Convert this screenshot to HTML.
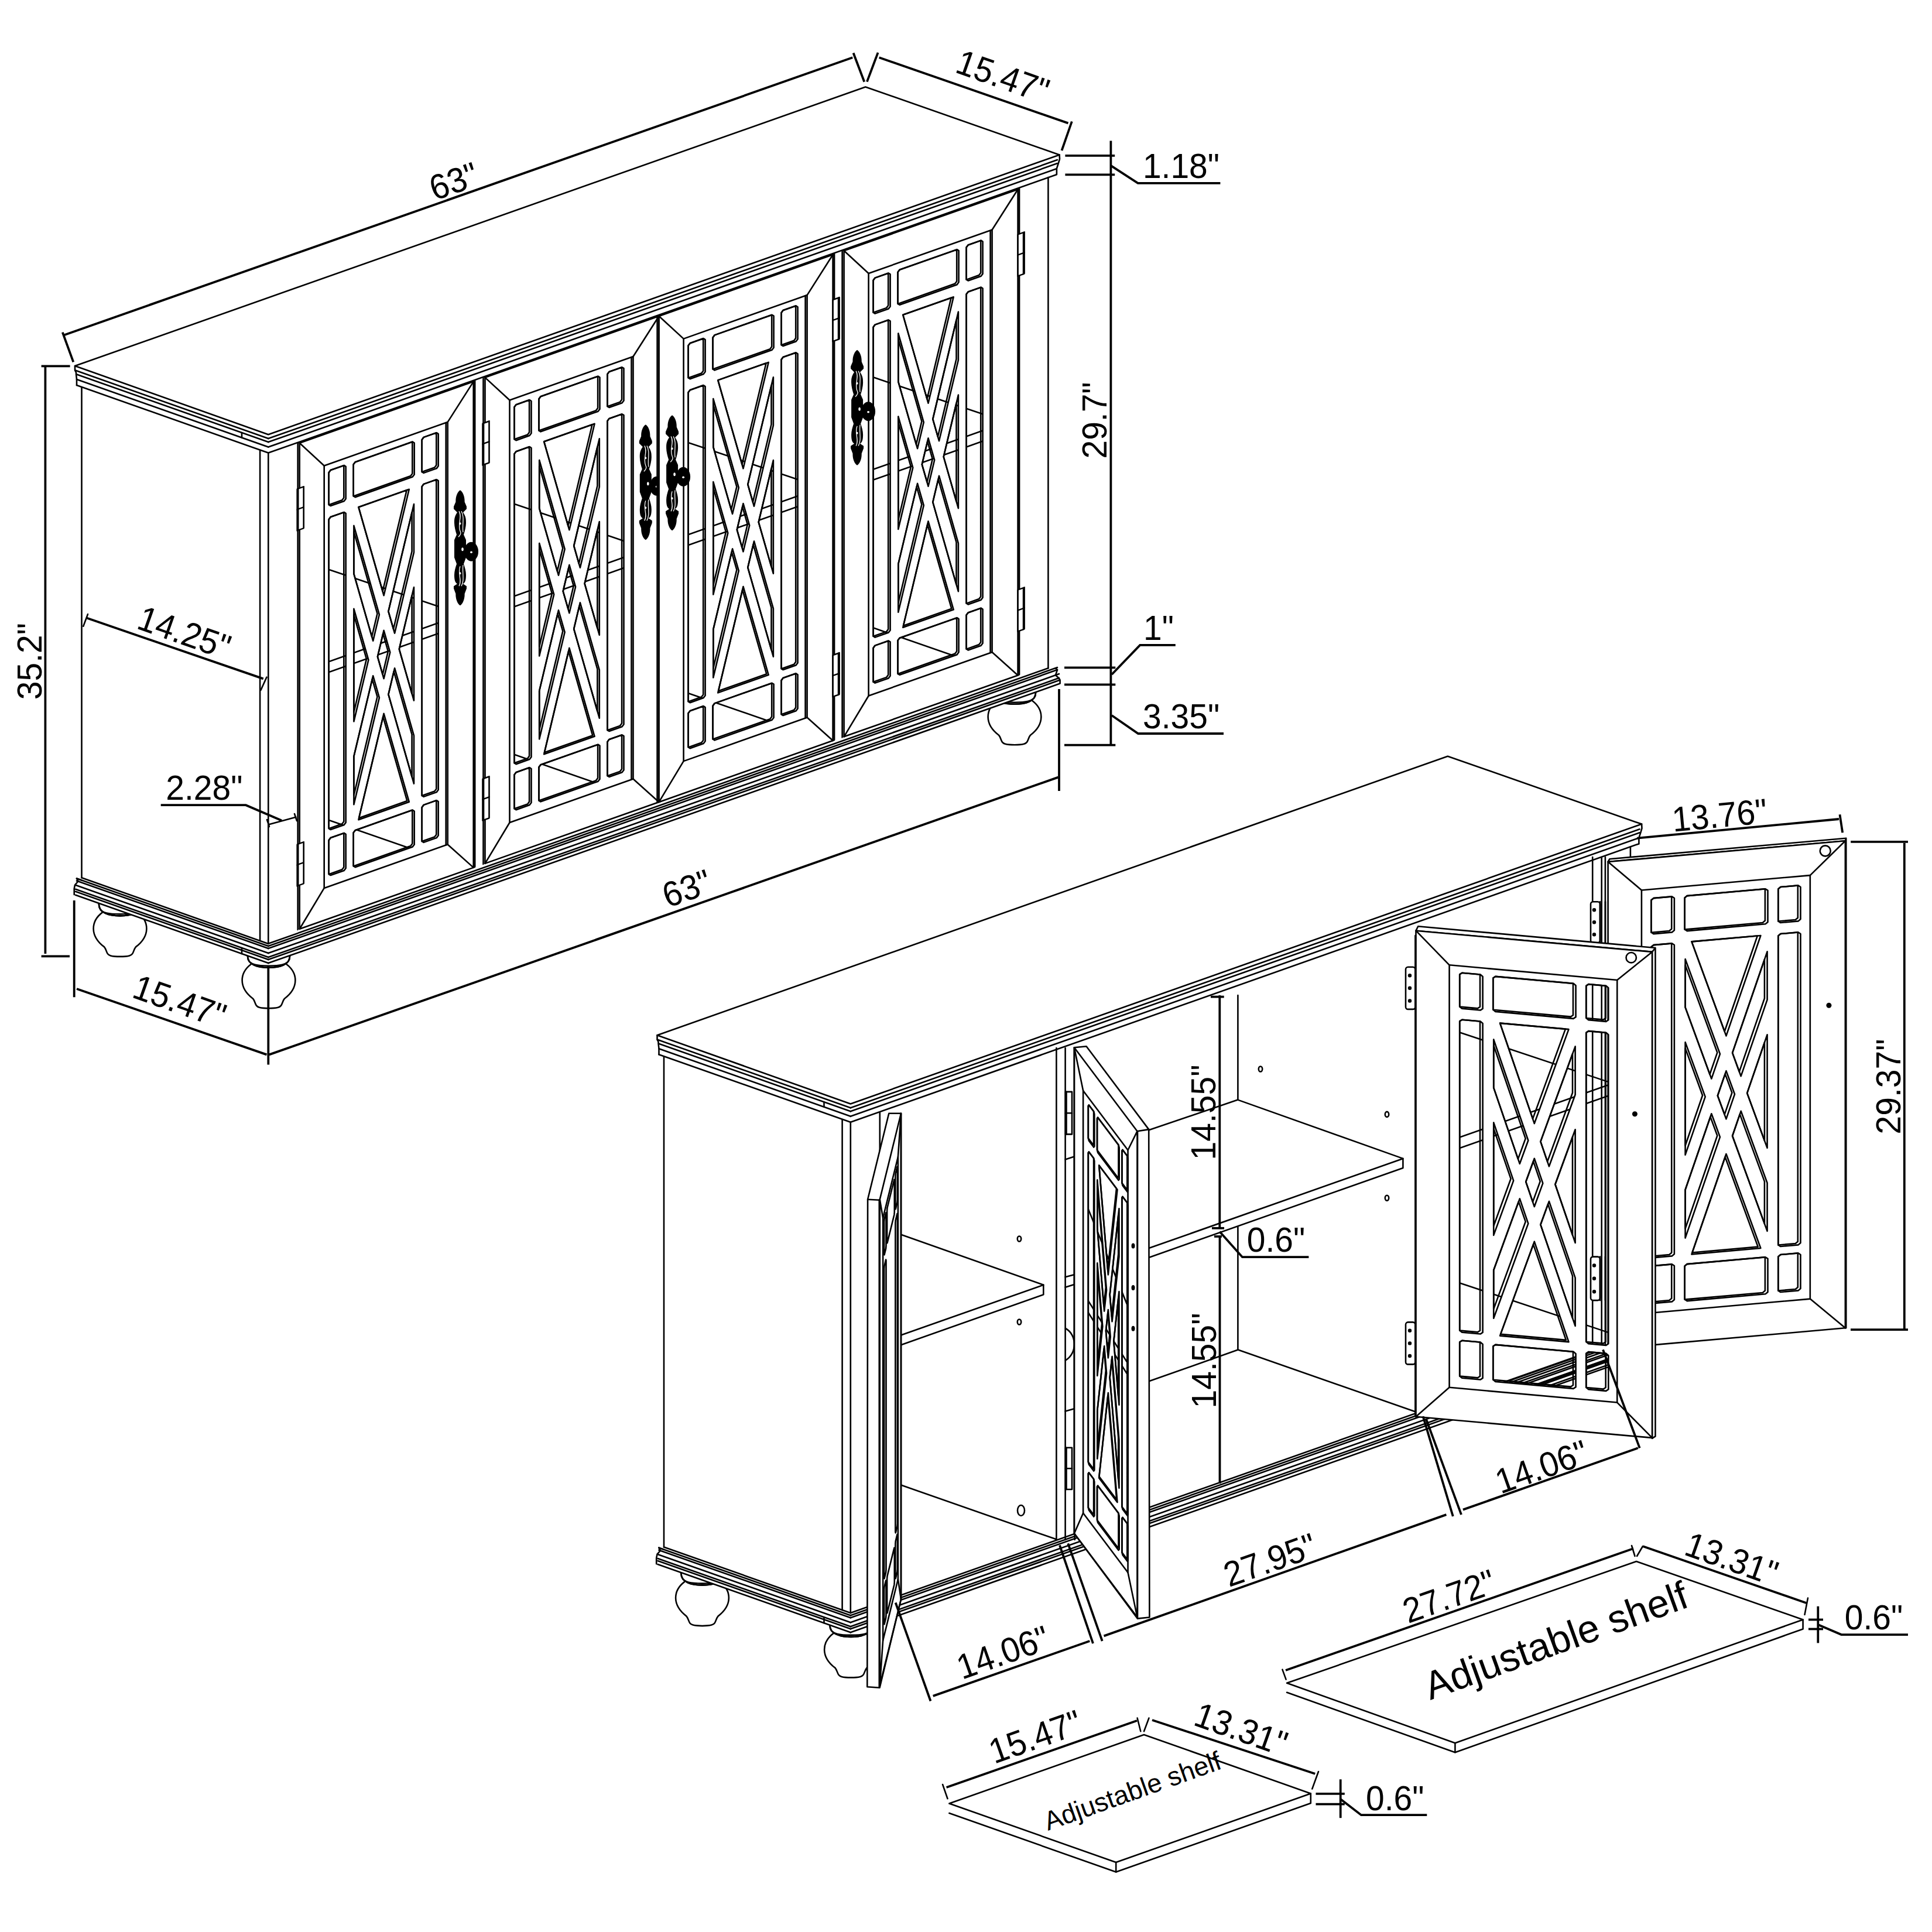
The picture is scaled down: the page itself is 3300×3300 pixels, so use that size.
<!DOCTYPE html>
<html><head><meta charset="utf-8"><style>
html,body{margin:0;padding:0;background:#fff;width:3300px;height:3300px;overflow:hidden}
svg{display:block}
.o{fill:none;stroke:#000;stroke-width:2.6;stroke-linejoin:round;stroke-linecap:round}
.d{fill:none;stroke:#000;stroke-width:3.8;stroke-linecap:butt}
.w{fill:#fff;stroke:none}
.ow{fill:#fff;stroke:#000;stroke-width:2.6;stroke-linejoin:round}
.n{vector-effect:non-scaling-stroke}
text{font-family:"Liberation Sans",sans-serif;fill:#000}
</style></head><body>
<svg xmlns="http://www.w3.org/2000/svg" width="3300" height="3300" viewBox="0 0 3300 3300">
<defs><g id="handle"><path fill="#000" d="M 0,0 C 5,3 8,12 7.6,20 L 11,28 L 11,32 L 5,38 C 10,45 10,50 10,56 C 10,62 8,70 6,76 L 10,85 L 10,115 L 6,126 C 8,132 10,138 10,145 C 10,152 9,158 5,160 L 11,164 L 11,168 L 7.6,177 C 8,185 5,194 0,197 C -5,194 -8,185 -7.6,177 L -11,168 L -11,164 L -5,160 C -9,158 -10,152 -10,145 C -10,138 -8,132 -6,126 L -10,115 L -10,85 L -6,76 C -8,70 -10,62 -10,56 C -10,50 -10,45 -5,38 L -11,32 L -11,28 L -7.6,20 C -8,12 -5,3 0,0 Z"/><ellipse cx="19" cy="105" rx="12" ry="16.5" fill="#000"/><path fill="none" stroke="#fff" stroke-width="1.3" d="M -2,36 C 4,46 -5,58 0,70 C 3,74 -1,78 -3,80 M 2,36 C 8,46 3,60 5,72 M -2,164 C 4,154 -5,142 0,130 M 2,164 C 8,154 3,140 5,128"/><ellipse cx="0" cy="57" rx="1.5" ry="2" fill="#fff"/><ellipse cx="0" cy="142" rx="1.5" ry="2" fill="#fff"/><ellipse cx="4" cy="101" rx="1.8" ry="3" fill="#fff"/><ellipse cx="19" cy="106" rx="2" ry="1.8" fill="#fff"/></g>
<clipPath id="gp1"><path d="M53,65 L76,65 L79,68 L79,123 L76,126 L53,126 L50,123 L50,68Z M95,66 L193,66 L196,69 L196,123 L193,126 L95,126 L92,123 L92,69Z M212,65 L234,65 L237,68 L237,123 L234,126 L212,126 L209,123 L209,68Z M53,145 L76,145 L79,148 L79,676 L76,679 L53,679 L50,676 L50,148Z M212,145 L234,145 L237,148 L237,676 L234,679 L212,679 L209,676 L209,148Z M53,693 L76,693 L79,696 L79,754 L76,757 L53,757 L50,754 L50,696Z M95,695 L193,695 L196,698 L196,755 L193,758 L95,758 L92,755 L92,698Z M212,693 L234,693 L237,696 L237,754 L234,757 L212,757 L209,754 L209,696Z M195.3,173.3 L151.7,341.1 L162.4,382.2 L195.3,255.6Z M195.3,315.2 L170.1,412 L195.3,508.8Z M195.3,568.5 L162.4,441.8 L151.7,483 L195.3,650.8Z M187.1,679 L143.9,512.8 L100.7,679Z M92.7,650.2 L136.2,483 L125.5,441.8 L92.7,567.9Z M92.7,508.3 L117.7,412 L92.7,315.8Z M92.7,256.2 L125.5,382.2 L136.2,341.1 L92.7,173.8Z M100.7,145 L143.9,311.2 L187.1,145Z M143.9,453.2 L154.6,412 L143.9,370.9 L133.2,412Z"/></clipPath>
<clipPath id="gp2"><path d="M53,65 L76,65 L79,68 L79,123 L76,126 L53,126 L50,123 L50,68Z M95,66 L193,66 L196,69 L196,123 L193,126 L95,126 L92,123 L92,69Z M212,65 L234,65 L237,68 L237,123 L234,126 L212,126 L209,123 L209,68Z M53,145 L76,145 L79,148 L79,676 L76,679 L53,679 L50,676 L50,148Z M212,145 L234,145 L237,148 L237,676 L234,679 L212,679 L209,676 L209,148Z M53,693 L76,693 L79,696 L79,754 L76,757 L53,757 L50,754 L50,696Z M95,695 L193,695 L196,698 L196,755 L193,758 L95,758 L92,755 L92,698Z M212,693 L234,693 L237,696 L237,754 L234,757 L212,757 L209,754 L209,696Z M195.3,173.3 L151.7,341.1 L162.4,382.2 L195.3,255.6Z M195.3,315.2 L170.1,412 L195.3,508.8Z M195.3,568.5 L162.4,441.8 L151.7,483 L195.3,650.8Z M187.1,679 L143.9,512.8 L100.7,679Z M92.7,650.2 L136.2,483 L125.5,441.8 L92.7,567.9Z M92.7,508.3 L117.7,412 L92.7,315.8Z M92.7,256.2 L125.5,382.2 L136.2,341.1 L92.7,173.8Z M100.7,145 L143.9,311.2 L187.1,145Z M143.9,453.2 L154.6,412 L143.9,370.9 L133.2,412Z"/></clipPath>
<clipPath id="gp3"><path d="M53,65 L76,65 L79,68 L79,123 L76,126 L53,126 L50,123 L50,68Z M95,66 L193,66 L196,69 L196,123 L193,126 L95,126 L92,123 L92,69Z M212,65 L234,65 L237,68 L237,123 L234,126 L212,126 L209,123 L209,68Z M53,145 L76,145 L79,148 L79,676 L76,679 L53,679 L50,676 L50,148Z M212,145 L234,145 L237,148 L237,676 L234,679 L212,679 L209,676 L209,148Z M53,693 L76,693 L79,696 L79,754 L76,757 L53,757 L50,754 L50,696Z M95,695 L193,695 L196,698 L196,755 L193,758 L95,758 L92,755 L92,698Z M212,693 L234,693 L237,696 L237,754 L234,757 L212,757 L209,754 L209,696Z M195.3,173.3 L151.7,341.1 L162.4,382.2 L195.3,255.6Z M195.3,315.2 L170.1,412 L195.3,508.8Z M195.3,568.5 L162.4,441.8 L151.7,483 L195.3,650.8Z M187.1,679 L143.9,512.8 L100.7,679Z M92.7,650.2 L136.2,483 L125.5,441.8 L92.7,567.9Z M92.7,508.3 L117.7,412 L92.7,315.8Z M92.7,256.2 L125.5,382.2 L136.2,341.1 L92.7,173.8Z M100.7,145 L143.9,311.2 L187.1,145Z M143.9,453.2 L154.6,412 L143.9,370.9 L133.2,412Z"/></clipPath>
<clipPath id="gp4"><path d="M53,65 L76,65 L79,68 L79,123 L76,126 L53,126 L50,123 L50,68Z M95,66 L193,66 L196,69 L196,123 L193,126 L95,126 L92,123 L92,69Z M212,65 L234,65 L237,68 L237,123 L234,126 L212,126 L209,123 L209,68Z M53,145 L76,145 L79,148 L79,676 L76,679 L53,679 L50,676 L50,148Z M212,145 L234,145 L237,148 L237,676 L234,679 L212,679 L209,676 L209,148Z M53,693 L76,693 L79,696 L79,754 L76,757 L53,757 L50,754 L50,696Z M95,695 L193,695 L196,698 L196,755 L193,758 L95,758 L92,755 L92,698Z M212,693 L234,693 L237,696 L237,754 L234,757 L212,757 L209,754 L209,696Z M195.3,173.3 L151.7,341.1 L162.4,382.2 L195.3,255.6Z M195.3,315.2 L170.1,412 L195.3,508.8Z M195.3,568.5 L162.4,441.8 L151.7,483 L195.3,650.8Z M187.1,679 L143.9,512.8 L100.7,679Z M92.7,650.2 L136.2,483 L125.5,441.8 L92.7,567.9Z M92.7,508.3 L117.7,412 L92.7,315.8Z M92.7,256.2 L125.5,382.2 L136.2,341.1 L92.7,173.8Z M100.7,145 L143.9,311.2 L187.1,145Z M143.9,453.2 L154.6,412 L143.9,370.9 L133.2,412Z"/></clipPath>
<clipPath id="gp5"><path d="M53,65 L76,65 L79,68 L79,123 L76,126 L53,126 L50,123 L50,68Z M95,66 L193,66 L196,69 L196,123 L193,126 L95,126 L92,123 L92,69Z M212,65 L234,65 L237,68 L237,123 L234,126 L212,126 L209,123 L209,68Z M53,145 L76,145 L79,148 L79,676 L76,679 L53,679 L50,676 L50,148Z M212,145 L234,145 L237,148 L237,676 L234,679 L212,679 L209,676 L209,148Z M53,693 L76,693 L79,696 L79,754 L76,757 L53,757 L50,754 L50,696Z M95,695 L193,695 L196,698 L196,755 L193,758 L95,758 L92,755 L92,698Z M212,693 L234,693 L237,696 L237,754 L234,757 L212,757 L209,754 L209,696Z M195.3,173.3 L151.7,341.1 L162.4,382.2 L195.3,255.6Z M195.3,315.2 L170.1,412 L195.3,508.8Z M195.3,568.5 L162.4,441.8 L151.7,483 L195.3,650.8Z M187.1,679 L143.9,512.8 L100.7,679Z M92.7,650.2 L136.2,483 L125.5,441.8 L92.7,567.9Z M92.7,508.3 L117.7,412 L92.7,315.8Z M92.7,256.2 L125.5,382.2 L136.2,341.1 L92.7,173.8Z M100.7,145 L143.9,311.2 L187.1,145Z M143.9,453.2 L154.6,412 L143.9,370.9 L133.2,412Z"/></clipPath>
<clipPath id="gp6"><path d="M53,65 L76,65 L79,68 L79,123 L76,126 L53,126 L50,123 L50,68Z M95,66 L193,66 L196,69 L196,123 L193,126 L95,126 L92,123 L92,69Z M212,65 L234,65 L237,68 L237,123 L234,126 L212,126 L209,123 L209,68Z M53,145 L76,145 L79,148 L79,676 L76,679 L53,679 L50,676 L50,148Z M212,145 L234,145 L237,148 L237,676 L234,679 L212,679 L209,676 L209,148Z M53,693 L76,693 L79,696 L79,754 L76,757 L53,757 L50,754 L50,696Z M95,695 L193,695 L196,698 L196,755 L193,758 L95,758 L92,755 L92,698Z M212,693 L234,693 L237,696 L237,754 L234,757 L212,757 L209,754 L209,696Z M195.3,173.3 L151.7,341.1 L162.4,382.2 L195.3,255.6Z M195.3,315.2 L170.1,412 L195.3,508.8Z M195.3,568.5 L162.4,441.8 L151.7,483 L195.3,650.8Z M187.1,679 L143.9,512.8 L100.7,679Z M92.7,650.2 L136.2,483 L125.5,441.8 L92.7,567.9Z M92.7,508.3 L117.7,412 L92.7,315.8Z M92.7,256.2 L125.5,382.2 L136.2,341.1 L92.7,173.8Z M100.7,145 L143.9,311.2 L187.1,145Z M143.9,453.2 L154.6,412 L143.9,370.9 L133.2,412Z"/></clipPath></defs>
<g id="v1">
<g transform="translate(205 1633.4)"><path class="ow" d="M -30,-75 C -50,-60 -52,-35 -27,-16 C -22,-10 -24,-3 -16,-1 C -8,1 8,1 16,-1 C 24,-3 22,-10 27,-16 C 52,-35 50,-60 30,-75"/><path class="ow" d="M -37,-92 L -36,-88 C -36,-74 -18,-69 0,-69 C 18,-69 36,-74 36,-88 L 37,-92 Z"/><path class="o" d="M -36,-88 C -36,-74 -18,-69 0,-69 C 18,-69 36,-74 36,-88 M -35,-84 C -33,-73 -17,-72 0,-72 C 17,-72 33,-73 35,-84"/></g>
<g transform="translate(459 1721.7)"><path class="ow" d="M -30,-75 C -50,-60 -52,-35 -27,-16 C -22,-10 -24,-3 -16,-1 C -8,1 8,1 16,-1 C 24,-3 22,-10 27,-16 C 52,-35 50,-60 30,-75"/><path class="ow" d="M -37,-92 L -36,-88 C -36,-74 -18,-69 0,-69 C 18,-69 36,-74 36,-88 L 37,-92 Z"/><path class="o" d="M -36,-88 C -36,-74 -18,-69 0,-69 C 18,-69 36,-74 36,-88 M -35,-84 C -33,-73 -17,-72 0,-72 C 17,-72 33,-73 35,-84"/></g>
<g transform="translate(1733 1271.7)"><path class="ow" d="M -30,-75 C -50,-60 -52,-35 -27,-16 C -22,-10 -24,-3 -16,-1 C -8,1 8,1 16,-1 C 24,-3 22,-10 27,-16 C 52,-35 50,-60 30,-75"/><path class="ow" d="M -37,-92 L -36,-88 C -36,-74 -18,-69 0,-69 C 18,-69 36,-74 36,-88 L 37,-92 Z"/><path class="o" d="M -36,-88 C -36,-74 -18,-69 0,-69 C 18,-69 36,-74 36,-88 M -35,-84 C -33,-73 -17,-72 0,-72 C 17,-72 33,-73 35,-84"/></g>
<polygon class="w" points="131,1500.5 458.3,1616.1 458.3,1616.1 1805,1140.5 1810.6,1167.5 458.3,1645.1 458.3,1645.1 126.7,1528"/>
<line class="o" x1="458.3" y1="1616.1" x2="1806" y2="1140.1"/>
<line class="o" x1="458.3" y1="1620.1" x2="1806" y2="1144.1"/>
<line class="o" x1="458.3" y1="1628.1" x2="1809" y2="1151.1"/>
<line class="o" x1="458.3" y1="1635.1" x2="1809" y2="1158.1"/>
<line class="o" x1="458.3" y1="1639.1" x2="1809" y2="1162.1"/>
<line class="o" x1="458.3" y1="1645.1" x2="1809" y2="1168.1"/>
<line class="o" x1="131" y1="1500.5" x2="458.3" y2="1616.1"/>
<line class="o" x1="131" y1="1504.5" x2="458.3" y2="1620.1"/>
<line class="o" x1="129" y1="1511.8" x2="458.3" y2="1628.1"/>
<line class="o" x1="129" y1="1518.8" x2="458.3" y2="1635.1"/>
<line class="o" x1="129" y1="1522.8" x2="458.3" y2="1639.1"/>
<line class="o" x1="129" y1="1528.8" x2="458.3" y2="1645.1"/>
<polyline class="o" points="131,1500.5 133.5,1505.4 128,1511.5 126.7,1518 126.7,1528"/>
<polyline class="o" points="1802.8,1141.3 1806,1144.1 1803,1153.2 1808.5,1158.2 1810.6,1161.5 1810.6,1167.5"/>
<line class="o" x1="413" y1="1619.1" x2="413" y2="1629.1"/>
<line class="o" x1="139.5" y1="661.3" x2="139.5" y2="1499.3"/>
<line class="o" x1="444.1" y1="768.9" x2="444.1" y2="1606.9"/>
<line class="o" x1="458.3" y1="773.6" x2="458.3" y2="1611.8"/>
<line class="o" x1="1790.4" y1="303.1" x2="1790.4" y2="1141.3"/>
<line class="o" x1="139.5" y1="1499.3" x2="458.3" y2="1611.9"/>
<line class="o" x1="458.3" y1="1611.8" x2="1790.4" y2="1141.3"/>
<line class="o" x1="131" y1="1500.5" x2="139.5" y2="1503.5"/>
<polygon class="o" points="128,625 1478.3,148.5 1809.6,264.4 458.3,742.2"/>
<line class="o" x1="458.3" y1="749.1" x2="1806" y2="273.1"/>
<line class="o" x1="458.3" y1="755.1" x2="1806" y2="279.1"/>
<line class="o" x1="458.3" y1="763.6" x2="1804.5" y2="288.2"/>
<line class="o" x1="458.3" y1="773.6" x2="1804.5" y2="298.2"/>
<line class="o" x1="128.5" y1="632.6" x2="458.3" y2="749.1"/>
<line class="o" x1="131" y1="639.5" x2="458.3" y2="755.1"/>
<line class="o" x1="131" y1="648" x2="458.3" y2="763.6"/>
<line class="o" x1="131" y1="658" x2="458.3" y2="773.6"/>
<polyline class="o" points="128,625 128,632.5 130,636.2 130,639.2 131,648 131,658"/>
<polyline class="o" points="1809.6,264.4 1810,271.7 1808,278.4 1804.9,288 1804.9,298"/>
<line class="o" x1="413" y1="739.1" x2="413" y2="747.6"/>
<g transform="matrix(1,-0.35320,0,1,511.700,756.768)"><line class="o" x1="-3" y1="0" x2="-3" y2="830"/><line class="o" x1="299.5" y1="0" x2="299.5" y2="830"/></g>
<g transform="matrix(1,-0.35320,0,1,511.700,756.768)">
<path fill="#fff" fill-rule="evenodd" d="M0,0 L297,0 L297,830 L0,830 Z M53,65 L76,65 L79,68 L79,123 L76,126 L53,126 L50,123 L50,68Z M95,66 L193,66 L196,69 L196,123 L193,126 L95,126 L92,123 L92,69Z M212,65 L234,65 L237,68 L237,123 L234,126 L212,126 L209,123 L209,68Z M53,145 L76,145 L79,148 L79,676 L76,679 L53,679 L50,676 L50,148Z M212,145 L234,145 L237,148 L237,676 L234,679 L212,679 L209,676 L209,148Z M53,693 L76,693 L79,696 L79,754 L76,757 L53,757 L50,754 L50,696Z M95,695 L193,695 L196,698 L196,755 L193,758 L95,758 L92,755 L92,698Z M212,693 L234,693 L237,696 L237,754 L234,757 L212,757 L209,754 L209,696Z M195.3,173.3 L151.7,341.1 L162.4,382.2 L195.3,255.6Z M195.3,315.2 L170.1,412 L195.3,508.8Z M195.3,568.5 L162.4,441.8 L151.7,483 L195.3,650.8Z M187.1,679 L143.9,512.8 L100.7,679Z M92.7,650.2 L136.2,483 L125.5,441.8 L92.7,567.9Z M92.7,508.3 L117.7,412 L92.7,315.8Z M92.7,256.2 L125.5,382.2 L136.2,341.1 L92.7,173.8Z M100.7,145 L143.9,311.2 L187.1,145Z M143.9,453.2 L154.6,412 L143.9,370.9 L133.2,412Z"/>
<rect class="o n" x="0" y="0" width="297" height="830"/>
<rect class="o n" x="42" y="53.5" width="211" height="721.5"/>
<path class="o n" d="M0,0 L42,53.5 M297,0 L253,53.5 M0,830 L42,775 M297,830 L253,775"/>
<g transform="translate(0 0)">
<g clip-path="url(#gp1)"><path class="o n" stroke-width="2" d="M40,226.8 L260,378.6 M40,391 L260,391 M40,409 L260,409 M40,654.7 L260,808.7"/></g>
<path class="o n" stroke-width="2.6" d="M53,65 L76,65 L79,68 L79,123 L76,126 L53,126 L50,123 L50,68Z M95,66 L193,66 L196,69 L196,123 L193,126 L95,126 L92,123 L92,69Z M212,65 L234,65 L237,68 L237,123 L234,126 L212,126 L209,123 L209,68Z M53,145 L76,145 L79,148 L79,676 L76,679 L53,679 L50,676 L50,148Z M212,145 L234,145 L237,148 L237,676 L234,679 L212,679 L209,676 L209,148Z M53,693 L76,693 L79,696 L79,754 L76,757 L53,757 L50,754 L50,696Z M95,695 L193,695 L196,698 L196,755 L193,758 L95,758 L92,755 L92,698Z M212,693 L234,693 L237,696 L237,754 L234,757 L212,757 L209,754 L209,696Z M195.3,173.3 L151.7,341.1 L162.4,382.2 L195.3,255.6Z M195.3,315.2 L170.1,412 L195.3,508.8Z M195.3,568.5 L162.4,441.8 L151.7,483 L195.3,650.8Z M187.1,679 L143.9,512.8 L100.7,679Z M92.7,650.2 L136.2,483 L125.5,441.8 L92.7,567.9Z M92.7,508.3 L117.7,412 L92.7,315.8Z M92.7,256.2 L125.5,382.2 L136.2,341.1 L92.7,173.8Z M100.7,145 L143.9,311.2 L187.1,145Z M143.9,453.2 L154.6,412 L143.9,370.9 L133.2,412Z"/>
<path class="o n" stroke-width="1.6" d="M72.6,123.2 L75.6,120.2 L75.6,65.2 L75.4,65 L53,65 L50,68 L50,123 L50.2,123.2Z M189.6,123.2 L192.6,120.2 L192.6,66.2 L192.4,66 L95,66 L92,69 L92,123 L92.2,123.2Z M230.6,123.2 L233.6,120.2 L233.6,65.2 L233.4,65 L212,65 L209,68 L209,123 L209.2,123.2Z M72.6,676.2 L75.6,673.2 L75.6,145.2 L75.4,145 L53,145 L50,148 L50,676 L50.2,676.2Z M230.6,676.2 L233.6,673.2 L233.6,145.2 L233.4,145 L212,145 L209,148 L209,676 L209.2,676.2Z M72.6,754.2 L75.6,751.2 L75.6,693.2 L75.4,693 L53,693 L50,696 L50,754 L50.2,754.2Z M189.6,755.2 L192.6,752.2 L192.6,695.2 L192.4,695 L95,695 L92,698 L92,755 L92.2,755.2Z M230.6,754.2 L233.6,751.2 L233.6,693.2 L233.4,693 L212,693 L209,696 L209,754 L209.2,754.2Z M191.9,252.8 L191.9,186.3 L151.7,341.1 L160.3,374.3Z M191.9,328.3 L170.1,412 L191.9,495.8Z M161,447 L151.7,483 L191.9,637.7 L191.9,565.7Z M142.6,517.9 L101.4,676.2 L183.7,676.2Z M132.8,480.2 L124.1,447 L92.7,567.9 L92.7,634.3Z M114.3,409.2 L92.7,326 L92.7,492.4Z M132.8,338.3 L92.7,184.1 L92.7,256.2 L123.4,374.3Z M183,145 L100.7,145 L141.9,303.3Z M151.2,409.2 L142.6,376 L133.2,412 L141.9,445.2Z"/>
</g></g>
<g transform="matrix(1,-0.35320,0,1,511.700,756.768)">
<line class="o" x1="250" y1="53.5" x2="250" y2="775"/>
<rect class="ow" x="-4" y="77" width="11" height="71"/>
<line class="o" x1="-4" y1="112" x2="7" y2="112"/>
<line class="o" stroke-width="4" x1="-2.5" y1="77" x2="-2.5" y2="148"/>
<rect class="ow" x="-4" y="684" width="11" height="71"/>
<line class="o" x1="-4" y1="719" x2="7" y2="719"/>
<line class="o" stroke-width="4" x1="-2.5" y1="684" x2="-2.5" y2="755"/>
</g>
<g transform="translate(786 837.2)"><use href="#handle"/></g>
<g transform="matrix(1,-0.35320,0,1,828.500,644.874)"><line class="o" x1="-3" y1="0" x2="-3" y2="830"/><line class="o" x1="299.5" y1="0" x2="299.5" y2="830"/></g>
<g transform="matrix(1,-0.35320,0,1,828.500,644.874)">
<path fill="#fff" fill-rule="evenodd" d="M0,0 L297,0 L297,830 L0,830 Z M53,65 L76,65 L79,68 L79,123 L76,126 L53,126 L50,123 L50,68Z M95,66 L193,66 L196,69 L196,123 L193,126 L95,126 L92,123 L92,69Z M212,65 L234,65 L237,68 L237,123 L234,126 L212,126 L209,123 L209,68Z M53,145 L76,145 L79,148 L79,676 L76,679 L53,679 L50,676 L50,148Z M212,145 L234,145 L237,148 L237,676 L234,679 L212,679 L209,676 L209,148Z M53,693 L76,693 L79,696 L79,754 L76,757 L53,757 L50,754 L50,696Z M95,695 L193,695 L196,698 L196,755 L193,758 L95,758 L92,755 L92,698Z M212,693 L234,693 L237,696 L237,754 L234,757 L212,757 L209,754 L209,696Z M195.3,173.3 L151.7,341.1 L162.4,382.2 L195.3,255.6Z M195.3,315.2 L170.1,412 L195.3,508.8Z M195.3,568.5 L162.4,441.8 L151.7,483 L195.3,650.8Z M187.1,679 L143.9,512.8 L100.7,679Z M92.7,650.2 L136.2,483 L125.5,441.8 L92.7,567.9Z M92.7,508.3 L117.7,412 L92.7,315.8Z M92.7,256.2 L125.5,382.2 L136.2,341.1 L92.7,173.8Z M100.7,145 L143.9,311.2 L187.1,145Z M143.9,453.2 L154.6,412 L143.9,370.9 L133.2,412Z"/>
<rect class="o n" x="0" y="0" width="297" height="830"/>
<rect class="o n" x="42" y="53.5" width="211" height="721.5"/>
<path class="o n" d="M0,0 L42,53.5 M297,0 L253,53.5 M0,830 L42,775 M297,830 L253,775"/>
<g transform="translate(0 0)">
<g clip-path="url(#gp2)"><path class="o n" stroke-width="2" d="M40,226.8 L260,378.6 M40,391 L260,391 M40,409 L260,409 M40,654.7 L260,808.7"/></g>
<path class="o n" stroke-width="2.6" d="M53,65 L76,65 L79,68 L79,123 L76,126 L53,126 L50,123 L50,68Z M95,66 L193,66 L196,69 L196,123 L193,126 L95,126 L92,123 L92,69Z M212,65 L234,65 L237,68 L237,123 L234,126 L212,126 L209,123 L209,68Z M53,145 L76,145 L79,148 L79,676 L76,679 L53,679 L50,676 L50,148Z M212,145 L234,145 L237,148 L237,676 L234,679 L212,679 L209,676 L209,148Z M53,693 L76,693 L79,696 L79,754 L76,757 L53,757 L50,754 L50,696Z M95,695 L193,695 L196,698 L196,755 L193,758 L95,758 L92,755 L92,698Z M212,693 L234,693 L237,696 L237,754 L234,757 L212,757 L209,754 L209,696Z M195.3,173.3 L151.7,341.1 L162.4,382.2 L195.3,255.6Z M195.3,315.2 L170.1,412 L195.3,508.8Z M195.3,568.5 L162.4,441.8 L151.7,483 L195.3,650.8Z M187.1,679 L143.9,512.8 L100.7,679Z M92.7,650.2 L136.2,483 L125.5,441.8 L92.7,567.9Z M92.7,508.3 L117.7,412 L92.7,315.8Z M92.7,256.2 L125.5,382.2 L136.2,341.1 L92.7,173.8Z M100.7,145 L143.9,311.2 L187.1,145Z M143.9,453.2 L154.6,412 L143.9,370.9 L133.2,412Z"/>
<path class="o n" stroke-width="1.6" d="M72.6,123.2 L75.6,120.2 L75.6,65.2 L75.4,65 L53,65 L50,68 L50,123 L50.2,123.2Z M189.6,123.2 L192.6,120.2 L192.6,66.2 L192.4,66 L95,66 L92,69 L92,123 L92.2,123.2Z M230.6,123.2 L233.6,120.2 L233.6,65.2 L233.4,65 L212,65 L209,68 L209,123 L209.2,123.2Z M72.6,676.2 L75.6,673.2 L75.6,145.2 L75.4,145 L53,145 L50,148 L50,676 L50.2,676.2Z M230.6,676.2 L233.6,673.2 L233.6,145.2 L233.4,145 L212,145 L209,148 L209,676 L209.2,676.2Z M72.6,754.2 L75.6,751.2 L75.6,693.2 L75.4,693 L53,693 L50,696 L50,754 L50.2,754.2Z M189.6,755.2 L192.6,752.2 L192.6,695.2 L192.4,695 L95,695 L92,698 L92,755 L92.2,755.2Z M230.6,754.2 L233.6,751.2 L233.6,693.2 L233.4,693 L212,693 L209,696 L209,754 L209.2,754.2Z M191.9,252.8 L191.9,186.3 L151.7,341.1 L160.3,374.3Z M191.9,328.3 L170.1,412 L191.9,495.8Z M161,447 L151.7,483 L191.9,637.7 L191.9,565.7Z M142.6,517.9 L101.4,676.2 L183.7,676.2Z M132.8,480.2 L124.1,447 L92.7,567.9 L92.7,634.3Z M114.3,409.2 L92.7,326 L92.7,492.4Z M132.8,338.3 L92.7,184.1 L92.7,256.2 L123.4,374.3Z M183,145 L100.7,145 L141.9,303.3Z M151.2,409.2 L142.6,376 L133.2,412 L141.9,445.2Z"/>
</g></g>
<g transform="matrix(1,-0.35320,0,1,828.500,644.874)">
<line class="o" x1="250" y1="53.5" x2="250" y2="775"/>
<rect class="ow" x="-4" y="77" width="11" height="71"/>
<line class="o" x1="-4" y1="112" x2="7" y2="112"/>
<line class="o" stroke-width="4" x1="-2.5" y1="77" x2="-2.5" y2="148"/>
<rect class="ow" x="-4" y="684" width="11" height="71"/>
<line class="o" x1="-4" y1="719" x2="7" y2="719"/>
<line class="o" stroke-width="4" x1="-2.5" y1="684" x2="-2.5" y2="755"/>
</g>
<g transform="translate(1102.8 725.3)"><use href="#handle"/></g>
<g transform="matrix(1,-0.35320,0,1,1125.600,539.938)"><line class="o" x1="-3" y1="0" x2="-3" y2="830"/><line class="o" x1="299.5" y1="0" x2="299.5" y2="830"/></g>
<g transform="matrix(1,-0.35320,0,1,1125.600,539.938)">
<path fill="#fff" fill-rule="evenodd" d="M0,0 L297,0 L297,830 L0,830 Z M53,65 L76,65 L79,68 L79,123 L76,126 L53,126 L50,123 L50,68Z M95,66 L193,66 L196,69 L196,123 L193,126 L95,126 L92,123 L92,69Z M212,65 L234,65 L237,68 L237,123 L234,126 L212,126 L209,123 L209,68Z M53,145 L76,145 L79,148 L79,676 L76,679 L53,679 L50,676 L50,148Z M212,145 L234,145 L237,148 L237,676 L234,679 L212,679 L209,676 L209,148Z M53,693 L76,693 L79,696 L79,754 L76,757 L53,757 L50,754 L50,696Z M95,695 L193,695 L196,698 L196,755 L193,758 L95,758 L92,755 L92,698Z M212,693 L234,693 L237,696 L237,754 L234,757 L212,757 L209,754 L209,696Z M195.3,173.3 L151.7,341.1 L162.4,382.2 L195.3,255.6Z M195.3,315.2 L170.1,412 L195.3,508.8Z M195.3,568.5 L162.4,441.8 L151.7,483 L195.3,650.8Z M187.1,679 L143.9,512.8 L100.7,679Z M92.7,650.2 L136.2,483 L125.5,441.8 L92.7,567.9Z M92.7,508.3 L117.7,412 L92.7,315.8Z M92.7,256.2 L125.5,382.2 L136.2,341.1 L92.7,173.8Z M100.7,145 L143.9,311.2 L187.1,145Z M143.9,453.2 L154.6,412 L143.9,370.9 L133.2,412Z"/>
<rect class="o n" x="0" y="0" width="297" height="830"/>
<rect class="o n" x="42" y="53.5" width="211" height="721.5"/>
<path class="o n" d="M0,0 L42,53.5 M297,0 L253,53.5 M0,830 L42,775 M297,830 L253,775"/>
<g transform="translate(0 0)">
<g clip-path="url(#gp3)"><path class="o n" stroke-width="2" d="M40,226.8 L260,378.6 M40,391 L260,391 M40,409 L260,409 M40,654.7 L260,808.7"/></g>
<path class="o n" stroke-width="2.6" d="M53,65 L76,65 L79,68 L79,123 L76,126 L53,126 L50,123 L50,68Z M95,66 L193,66 L196,69 L196,123 L193,126 L95,126 L92,123 L92,69Z M212,65 L234,65 L237,68 L237,123 L234,126 L212,126 L209,123 L209,68Z M53,145 L76,145 L79,148 L79,676 L76,679 L53,679 L50,676 L50,148Z M212,145 L234,145 L237,148 L237,676 L234,679 L212,679 L209,676 L209,148Z M53,693 L76,693 L79,696 L79,754 L76,757 L53,757 L50,754 L50,696Z M95,695 L193,695 L196,698 L196,755 L193,758 L95,758 L92,755 L92,698Z M212,693 L234,693 L237,696 L237,754 L234,757 L212,757 L209,754 L209,696Z M195.3,173.3 L151.7,341.1 L162.4,382.2 L195.3,255.6Z M195.3,315.2 L170.1,412 L195.3,508.8Z M195.3,568.5 L162.4,441.8 L151.7,483 L195.3,650.8Z M187.1,679 L143.9,512.8 L100.7,679Z M92.7,650.2 L136.2,483 L125.5,441.8 L92.7,567.9Z M92.7,508.3 L117.7,412 L92.7,315.8Z M92.7,256.2 L125.5,382.2 L136.2,341.1 L92.7,173.8Z M100.7,145 L143.9,311.2 L187.1,145Z M143.9,453.2 L154.6,412 L143.9,370.9 L133.2,412Z"/>
<path class="o n" stroke-width="1.6" d="M72.6,123.2 L75.6,120.2 L75.6,65.2 L75.4,65 L53,65 L50,68 L50,123 L50.2,123.2Z M189.6,123.2 L192.6,120.2 L192.6,66.2 L192.4,66 L95,66 L92,69 L92,123 L92.2,123.2Z M230.6,123.2 L233.6,120.2 L233.6,65.2 L233.4,65 L212,65 L209,68 L209,123 L209.2,123.2Z M72.6,676.2 L75.6,673.2 L75.6,145.2 L75.4,145 L53,145 L50,148 L50,676 L50.2,676.2Z M230.6,676.2 L233.6,673.2 L233.6,145.2 L233.4,145 L212,145 L209,148 L209,676 L209.2,676.2Z M72.6,754.2 L75.6,751.2 L75.6,693.2 L75.4,693 L53,693 L50,696 L50,754 L50.2,754.2Z M189.6,755.2 L192.6,752.2 L192.6,695.2 L192.4,695 L95,695 L92,698 L92,755 L92.2,755.2Z M230.6,754.2 L233.6,751.2 L233.6,693.2 L233.4,693 L212,693 L209,696 L209,754 L209.2,754.2Z M191.9,252.8 L191.9,186.3 L151.7,341.1 L160.3,374.3Z M191.9,328.3 L170.1,412 L191.9,495.8Z M161,447 L151.7,483 L191.9,637.7 L191.9,565.7Z M142.6,517.9 L101.4,676.2 L183.7,676.2Z M132.8,480.2 L124.1,447 L92.7,567.9 L92.7,634.3Z M114.3,409.2 L92.7,326 L92.7,492.4Z M132.8,338.3 L92.7,184.1 L92.7,256.2 L123.4,374.3Z M183,145 L100.7,145 L141.9,303.3Z M151.2,409.2 L142.6,376 L133.2,412 L141.9,445.2Z"/>
</g></g>
<g transform="matrix(1,-0.35320,0,1,1125.600,539.938)">
<line class="o" x1="250" y1="53.5" x2="250" y2="775"/>
<rect class="ow" x="297" y="77" width="11" height="71"/>
<line class="o" x1="297" y1="112" x2="308" y2="112"/>
<line class="o" stroke-width="4" x1="306.5" y1="77" x2="306.5" y2="148"/>
<rect class="ow" x="297" y="684" width="11" height="71"/>
<line class="o" x1="297" y1="719" x2="308" y2="719"/>
<line class="o" stroke-width="4" x1="306.5" y1="684" x2="306.5" y2="755"/>
</g>
<g transform="translate(1148.1 709.3)"><use href="#handle"/></g>
<g transform="matrix(1,-0.35320,0,1,1441.600,428.327)"><line class="o" x1="-3" y1="0" x2="-3" y2="830"/><line class="o" x1="299.5" y1="0" x2="299.5" y2="830"/></g>
<g transform="matrix(1,-0.35320,0,1,1441.600,428.327)">
<path fill="#fff" fill-rule="evenodd" d="M0,0 L297,0 L297,830 L0,830 Z M53,65 L76,65 L79,68 L79,123 L76,126 L53,126 L50,123 L50,68Z M95,66 L193,66 L196,69 L196,123 L193,126 L95,126 L92,123 L92,69Z M212,65 L234,65 L237,68 L237,123 L234,126 L212,126 L209,123 L209,68Z M53,145 L76,145 L79,148 L79,676 L76,679 L53,679 L50,676 L50,148Z M212,145 L234,145 L237,148 L237,676 L234,679 L212,679 L209,676 L209,148Z M53,693 L76,693 L79,696 L79,754 L76,757 L53,757 L50,754 L50,696Z M95,695 L193,695 L196,698 L196,755 L193,758 L95,758 L92,755 L92,698Z M212,693 L234,693 L237,696 L237,754 L234,757 L212,757 L209,754 L209,696Z M195.3,173.3 L151.7,341.1 L162.4,382.2 L195.3,255.6Z M195.3,315.2 L170.1,412 L195.3,508.8Z M195.3,568.5 L162.4,441.8 L151.7,483 L195.3,650.8Z M187.1,679 L143.9,512.8 L100.7,679Z M92.7,650.2 L136.2,483 L125.5,441.8 L92.7,567.9Z M92.7,508.3 L117.7,412 L92.7,315.8Z M92.7,256.2 L125.5,382.2 L136.2,341.1 L92.7,173.8Z M100.7,145 L143.9,311.2 L187.1,145Z M143.9,453.2 L154.6,412 L143.9,370.9 L133.2,412Z"/>
<rect class="o n" x="0" y="0" width="297" height="830"/>
<rect class="o n" x="42" y="53.5" width="211" height="721.5"/>
<path class="o n" d="M0,0 L42,53.5 M297,0 L253,53.5 M0,830 L42,775 M297,830 L253,775"/>
<g transform="translate(0 0)">
<g clip-path="url(#gp4)"><path class="o n" stroke-width="2" d="M40,226.8 L260,378.6 M40,391 L260,391 M40,409 L260,409 M40,654.7 L260,808.7"/></g>
<path class="o n" stroke-width="2.6" d="M53,65 L76,65 L79,68 L79,123 L76,126 L53,126 L50,123 L50,68Z M95,66 L193,66 L196,69 L196,123 L193,126 L95,126 L92,123 L92,69Z M212,65 L234,65 L237,68 L237,123 L234,126 L212,126 L209,123 L209,68Z M53,145 L76,145 L79,148 L79,676 L76,679 L53,679 L50,676 L50,148Z M212,145 L234,145 L237,148 L237,676 L234,679 L212,679 L209,676 L209,148Z M53,693 L76,693 L79,696 L79,754 L76,757 L53,757 L50,754 L50,696Z M95,695 L193,695 L196,698 L196,755 L193,758 L95,758 L92,755 L92,698Z M212,693 L234,693 L237,696 L237,754 L234,757 L212,757 L209,754 L209,696Z M195.3,173.3 L151.7,341.1 L162.4,382.2 L195.3,255.6Z M195.3,315.2 L170.1,412 L195.3,508.8Z M195.3,568.5 L162.4,441.8 L151.7,483 L195.3,650.8Z M187.1,679 L143.9,512.8 L100.7,679Z M92.7,650.2 L136.2,483 L125.5,441.8 L92.7,567.9Z M92.7,508.3 L117.7,412 L92.7,315.8Z M92.7,256.2 L125.5,382.2 L136.2,341.1 L92.7,173.8Z M100.7,145 L143.9,311.2 L187.1,145Z M143.9,453.2 L154.6,412 L143.9,370.9 L133.2,412Z"/>
<path class="o n" stroke-width="1.6" d="M72.6,123.2 L75.6,120.2 L75.6,65.2 L75.4,65 L53,65 L50,68 L50,123 L50.2,123.2Z M189.6,123.2 L192.6,120.2 L192.6,66.2 L192.4,66 L95,66 L92,69 L92,123 L92.2,123.2Z M230.6,123.2 L233.6,120.2 L233.6,65.2 L233.4,65 L212,65 L209,68 L209,123 L209.2,123.2Z M72.6,676.2 L75.6,673.2 L75.6,145.2 L75.4,145 L53,145 L50,148 L50,676 L50.2,676.2Z M230.6,676.2 L233.6,673.2 L233.6,145.2 L233.4,145 L212,145 L209,148 L209,676 L209.2,676.2Z M72.6,754.2 L75.6,751.2 L75.6,693.2 L75.4,693 L53,693 L50,696 L50,754 L50.2,754.2Z M189.6,755.2 L192.6,752.2 L192.6,695.2 L192.4,695 L95,695 L92,698 L92,755 L92.2,755.2Z M230.6,754.2 L233.6,751.2 L233.6,693.2 L233.4,693 L212,693 L209,696 L209,754 L209.2,754.2Z M191.9,252.8 L191.9,186.3 L151.7,341.1 L160.3,374.3Z M191.9,328.3 L170.1,412 L191.9,495.8Z M161,447 L151.7,483 L191.9,637.7 L191.9,565.7Z M142.6,517.9 L101.4,676.2 L183.7,676.2Z M132.8,480.2 L124.1,447 L92.7,567.9 L92.7,634.3Z M114.3,409.2 L92.7,326 L92.7,492.4Z M132.8,338.3 L92.7,184.1 L92.7,256.2 L123.4,374.3Z M183,145 L100.7,145 L141.9,303.3Z M151.2,409.2 L142.6,376 L133.2,412 L141.9,445.2Z"/>
</g></g>
<g transform="matrix(1,-0.35320,0,1,1441.600,428.327)">
<line class="o" x1="250" y1="53.5" x2="250" y2="775"/>
<rect class="ow" x="297" y="77" width="11" height="71"/>
<line class="o" x1="297" y1="112" x2="308" y2="112"/>
<line class="o" stroke-width="4" x1="306.5" y1="77" x2="306.5" y2="148"/>
<rect class="ow" x="297" y="684" width="11" height="71"/>
<line class="o" x1="297" y1="719" x2="308" y2="719"/>
<line class="o" stroke-width="4" x1="306.5" y1="684" x2="306.5" y2="755"/>
</g>
<g transform="translate(1464.1 597.7)"><use href="#handle"/></g>
<line class="d" x1="109.6" y1="572.2" x2="1456.3" y2="98.3"/>
<line class="d" x1="106.8" y1="567.6" x2="125.3" y2="618.3"/>
<line class="d" x1="1457.6" y1="90.5" x2="1476.3" y2="139.7"/>
<text x="0" y="0" font-size="60" text-anchor="middle" transform="translate(782 329) rotate(-19.5) scale(0.95 1)">63"</text>
<line class="d" x1="1501.6" y1="98.3" x2="1824.5" y2="210.4"/>
<line class="d" x1="1499.6" y1="89.8" x2="1480.9" y2="139.7"/>
<line class="d" x1="1830.8" y1="207.5" x2="1813.5" y2="257.2"/>
<text x="0" y="0" font-size="60" text-anchor="middle" transform="translate(1706 150) rotate(19.5) scale(0.95 1)">15.47"</text>
<line class="d" x1="1819.4" y1="265.8" x2="1904.2" y2="265.8"/>
<line class="d" x1="1819.4" y1="298.3" x2="1904.2" y2="298.3"/>
<line class="d" x1="1897.4" y1="240.4" x2="1897.4" y2="1272.7"/>
<polyline class="d" points="1897.4,282.8 1943.6,312.8 2084.4,312.8"/>
<text x="0" y="0" font-size="60" text-anchor="start" transform="translate(1951.9 303.5) scale(0.95 1)">1.18"</text>
<line class="d" x1="1818" y1="1140.4" x2="1905.3" y2="1140.4"/>
<line class="d" x1="1818" y1="1169.3" x2="1905.3" y2="1169.3"/>
<line class="d" x1="1818" y1="1272.7" x2="1905.3" y2="1272.7"/>
<polyline class="d" points="1899,1152 1947.2,1101.9 2007.8,1101.9"/>
<text x="0" y="0" font-size="60" text-anchor="start" transform="translate(1953 1093) scale(0.95 1)">1"</text>
<polyline class="d" points="1899,1222 1944,1253 2090,1253"/>
<text x="0" y="0" font-size="60" text-anchor="start" transform="translate(1952 1244) scale(0.95 1)">3.35"</text>
<text x="0" y="0" font-size="60" text-anchor="middle" transform="translate(1890 718) rotate(-90) scale(0.95 1)">29.7"</text>
<line class="d" x1="77.4" y1="627" x2="77.4" y2="1629"/>
<line class="d" x1="70.6" y1="625.4" x2="119.6" y2="625.4"/>
<line class="d" x1="70.6" y1="1633.4" x2="119" y2="1633.4"/>
<text x="0" y="0" font-size="60" text-anchor="middle" transform="translate(71 1129.6) rotate(-90) scale(0.95 1)">35.2"</text>
<line class="d" x1="148" y1="1055.5" x2="449.8" y2="1159.4"/>
<line class="o" x1="142.3" y1="1069.7" x2="150" y2="1049"/>
<line class="o" x1="445.5" y1="1178.8" x2="455.5" y2="1156.6"/>
<text x="0" y="0" font-size="60" text-anchor="middle" transform="translate(308 1100) rotate(19.5) scale(0.95 1)">14.25"</text>
<text x="0" y="0" font-size="60" text-anchor="start" transform="translate(283.3 1365.8) scale(0.95 1)">2.28"</text>
<polyline class="d" points="274.7,1375.2 419.9,1375.2 481.1,1401.4"/>
<line class="o" x1="458.3" y1="1408.5" x2="505.3" y2="1395.7"/>
<line class="o" x1="456" y1="1400" x2="460" y2="1412"/>
<line class="o" x1="503" y1="1390" x2="507" y2="1402"/>
<line class="d" x1="126.7" y1="1538" x2="126.7" y2="1703.2"/>
<line class="d" x1="131" y1="1689" x2="455.5" y2="1801.4"/>
<line class="d" x1="458.3" y1="1650.5" x2="458.3" y2="1818.5"/>
<text x="0" y="0" font-size="60" text-anchor="middle" transform="translate(300 1730) rotate(19.5) scale(0.95 1)">15.47"</text>
<line class="d" x1="459.8" y1="1801.4" x2="1807.5" y2="1327.6"/>
<line class="d" x1="1809" y1="1177" x2="1809" y2="1351"/>
<text x="0" y="0" font-size="60" text-anchor="middle" transform="translate(1180 1537) rotate(-19.5) scale(0.95 1)">63"</text>
</g>
<g id="v2">
<g transform="translate(994.5 1143.2)">
<g transform="translate(205 1633.4)"><path class="ow" d="M -30,-75 C -50,-60 -52,-35 -27,-16 C -22,-10 -24,-3 -16,-1 C -8,1 8,1 16,-1 C 24,-3 22,-10 27,-16 C 52,-35 50,-60 30,-75"/><path class="ow" d="M -37,-92 L -36,-88 C -36,-74 -18,-69 0,-69 C 18,-69 36,-74 36,-88 L 37,-92 Z"/><path class="o" d="M -36,-88 C -36,-74 -18,-69 0,-69 C 18,-69 36,-74 36,-88 M -35,-84 C -33,-73 -17,-72 0,-72 C 17,-72 33,-73 35,-84"/></g>
<g transform="translate(459 1721.7)"><path class="ow" d="M -30,-75 C -50,-60 -52,-35 -27,-16 C -22,-10 -24,-3 -16,-1 C -8,1 8,1 16,-1 C 24,-3 22,-10 27,-16 C 52,-35 50,-60 30,-75"/><path class="ow" d="M -37,-92 L -36,-88 C -36,-74 -18,-69 0,-69 C 18,-69 36,-74 36,-88 L 37,-92 Z"/><path class="o" d="M -36,-88 C -36,-74 -18,-69 0,-69 C 18,-69 36,-74 36,-88 M -35,-84 C -33,-73 -17,-72 0,-72 C 17,-72 33,-73 35,-84"/></g>
<polygon class="w" points="131,1500.5 458.3,1616.1 458.3,1616.1 1805,1140.5 1810.6,1167.5 458.3,1645.1 458.3,1645.1 126.7,1528"/>
<line class="o" x1="458.3" y1="1616.1" x2="1806" y2="1140.1"/>
<line class="o" x1="458.3" y1="1620.1" x2="1806" y2="1144.1"/>
<line class="o" x1="458.3" y1="1628.1" x2="1809" y2="1151.1"/>
<line class="o" x1="458.3" y1="1635.1" x2="1809" y2="1158.1"/>
<line class="o" x1="458.3" y1="1639.1" x2="1809" y2="1162.1"/>
<line class="o" x1="458.3" y1="1645.1" x2="1809" y2="1168.1"/>
<line class="o" x1="131" y1="1500.5" x2="458.3" y2="1616.1"/>
<line class="o" x1="131" y1="1504.5" x2="458.3" y2="1620.1"/>
<line class="o" x1="129" y1="1511.8" x2="458.3" y2="1628.1"/>
<line class="o" x1="129" y1="1518.8" x2="458.3" y2="1635.1"/>
<line class="o" x1="129" y1="1522.8" x2="458.3" y2="1639.1"/>
<line class="o" x1="129" y1="1528.8" x2="458.3" y2="1645.1"/>
<polyline class="o" points="131,1500.5 133.5,1505.4 128,1511.5 126.7,1518 126.7,1528"/>
<polyline class="o" points="1802.8,1141.3 1806,1144.1 1803,1153.2 1808.5,1158.2 1810.6,1161.5 1810.6,1167.5"/>
<line class="o" x1="413" y1="1619.1" x2="413" y2="1629.1"/>
<line class="o" x1="139.5" y1="661.3" x2="139.5" y2="1499.3"/>
<line class="o" x1="444.1" y1="768.9" x2="444.1" y2="1606.9"/>
<line class="o" x1="458.3" y1="773.6" x2="458.3" y2="1611.8"/>
<line class="o" x1="1790.4" y1="303.1" x2="1790.4" y2="1141.3"/>
<line class="o" x1="139.5" y1="1499.3" x2="458.3" y2="1611.9"/>
<line class="o" x1="458.3" y1="1611.8" x2="1790.4" y2="1141.3"/>
<line class="o" x1="131" y1="1500.5" x2="139.5" y2="1503.5"/>
<polygon class="o" points="128,625 1478.3,148.5 1809.6,264.4 458.3,742.2"/>
<line class="o" x1="458.3" y1="749.1" x2="1806" y2="273.1"/>
<line class="o" x1="458.3" y1="755.1" x2="1806" y2="279.1"/>
<line class="o" x1="458.3" y1="763.6" x2="1804.5" y2="288.2"/>
<line class="o" x1="458.3" y1="773.6" x2="1804.5" y2="298.2"/>
<line class="o" x1="128.5" y1="632.6" x2="458.3" y2="749.1"/>
<line class="o" x1="131" y1="639.5" x2="458.3" y2="755.1"/>
<line class="o" x1="131" y1="648" x2="458.3" y2="763.6"/>
<line class="o" x1="131" y1="658" x2="458.3" y2="773.6"/>
<polyline class="o" points="128,625 128,632.5 130,636.2 130,639.2 131,648 131,658"/>
<polyline class="o" points="1809.6,264.4 1810,271.7 1808,278.4 1804.9,288 1804.9,298"/>
<line class="o" x1="413" y1="739.1" x2="413" y2="747.6"/>
</g>
<line class="o" x1="1502.8" y1="1900" x2="1502.8" y2="2727"/>
<line class="o" x1="1804.4" y1="1790" x2="1804.4" y2="2630"/>
<line class="o" x1="1819.6" y1="1790" x2="1819.6" y2="2630"/>
<line class="o" x1="1835.7" y1="1790" x2="1835.7" y2="2630"/>
<line class="o" x1="2417.4" y1="1598" x2="2417.4" y2="2419"/>
<polyline class="o" points="1539,2108.8 1782.3,2194.7 1782.3,2211.3 1539,2297.2"/>
<line class="o" x1="1782.3" y1="2194.7" x2="1539" y2="2280.6"/>
<line class="o" x1="1539.6" y1="2536.8" x2="1804.4" y2="2629.3"/>
<line class="o" x1="1819.6" y1="1980.4" x2="1835.7" y2="1975.2"/>
<line class="o" x1="1819.6" y1="2181.2" x2="1835.7" y2="2177"/>
<line class="o" x1="1819.6" y1="2198.8" x2="1835.7" y2="2193.7"/>
<line class="o" x1="1819.6" y1="2410.6" x2="1835.7" y2="2406"/>
<ellipse class="o" cx="1741" cy="2116" rx="3.2" ry="4.5" stroke-width="2"/>
<ellipse class="o" cx="1741" cy="2258" rx="3.2" ry="4.5" stroke-width="2"/>
<ellipse class="o" cx="1744" cy="2580" rx="6" ry="9" stroke-width="2"/>
<ellipse class="o" cx="2153" cy="1826" rx="3.2" ry="4.5" stroke-width="2"/>
<ellipse class="o" cx="2369" cy="1903.4" rx="3.2" ry="4.5" stroke-width="2"/>
<ellipse class="o" cx="2369" cy="2046.3" rx="3.2" ry="4.5" stroke-width="2"/>
<path class="o" d="M1820,2269 C1840,2280 1840,2312 1820,2323.6"/>
<rect class="ow" x="1820" y="1864.9" width="11" height="72.5"/>
<line class="o" x1="1820" y1="1901.2" x2="1831" y2="1901.2"/>
<line class="o" x1="1821.5" y1="1864.9" x2="1821.5" y2="1937.4" stroke-width="4"/>
<rect class="ow" x="1820" y="2472.7" width="11" height="71.3"/>
<line class="o" x1="1820" y1="2508.3" x2="1831" y2="2508.3"/>
<line class="o" x1="1821.5" y1="2472.7" x2="1821.5" y2="2544" stroke-width="4"/>
<line class="o" x1="2114.4" y1="1700" x2="2114.4" y2="1878.6"/>
<line class="o" x1="2114.4" y1="2096" x2="2114.4" y2="2305.6"/>
<polyline class="o" points="1963.7,1929.8 2114.3,1878.6 2396.4,1978.9 2396.4,1995 1963.7,2147.4"/>
<line class="o" x1="2396.4" y1="1978.9" x2="1963.7" y2="2131.6"/>
<polyline class="o" points="1964,2358.8 2114.6,2305.6 2417.4,2411.2"/>
<line class="d" x1="2083.3" y1="1700" x2="2083.3" y2="2098"/>
<line class="d" x1="2068" y1="1702.6" x2="2090.7" y2="1702.6"/>
<line class="d" x1="2070" y1="2097.8" x2="2091" y2="2097.8"/>
<line class="d" x1="2074" y1="2112" x2="2087" y2="2112"/>
<line class="d" x1="2083.5" y1="2112" x2="2083.5" y2="2534"/>
<text x="0" y="0" font-size="60" text-anchor="middle" transform="translate(2076 1900) rotate(-90) scale(0.95 1)">14.55"</text>
<text x="0" y="0" font-size="60" text-anchor="middle" transform="translate(2077 2324) rotate(-90) scale(0.95 1)">14.55"</text>
<polyline class="d" points="2083.3,2103.7 2122,2147.2 2235.4,2147.2"/>
<text x="0" y="0" font-size="60" text-anchor="start" transform="translate(2129.8 2138) scale(0.95 1)">0.6"</text>
<g transform="matrix(1.3646,-0.1202,0,1,2746.6,1472)"><path class="ow n" d="M0,0 L2,-4.5 L298,-4.5 L297,0 Z M297,0 L298,-4.5 L298,832 L297,832 Z"/></g>
<line class="o" x1="2720.2" y1="1464" x2="2720.2" y2="2300"/>
<line class="o" x1="2735.7" y1="1464" x2="2735.7" y2="2300"/>
<line class="o" x1="2741.9" y1="1464" x2="2741.9" y2="2300"/>
<rect class="ow" x="2717" y="1540.3" width="16" height="69.9" rx="4"/>
<circle cx="2723" cy="1554.3" r="3.2"/>
<circle cx="2723" cy="1575.2" r="3.2"/>
<circle cx="2723" cy="1596.2" r="3.2"/>
<line class="o" x1="2733" y1="1540.3" x2="2733" y2="1610.2"/>
<line class="o" x1="2742" y1="1540.3" x2="2742" y2="1610.2"/>
<rect class="ow" x="2717" y="2146.6" width="16" height="74.5" rx="4"/>
<circle cx="2723" cy="2161.5" r="3.2"/>
<circle cx="2723" cy="2183.8" r="3.2"/>
<circle cx="2723" cy="2206.2" r="3.2"/>
<line class="o" x1="2733" y1="2146.6" x2="2733" y2="2221.1"/>
<line class="o" x1="2742" y1="2146.6" x2="2742" y2="2221.1"/>
<g transform="matrix(1.3646,-0.1202,0,1,2746.6,1472)">
<path fill="#fff" fill-rule="evenodd" d="M0,0 L297,0 L297,832 L0,832 Z M57,69 L80,69 L83,72 L83,127 L80,130 L57,130 L54,127 L54,72Z M99,70 L197,70 L200,73 L200,127 L197,130 L99,130 L96,127 L96,73Z M216,69 L238,69 L241,72 L241,127 L238,130 L216,130 L213,127 L213,72Z M57,149 L80,149 L83,152 L83,680 L80,683 L57,683 L54,680 L54,152Z M216,149 L238,149 L241,152 L241,680 L238,683 L216,683 L213,680 L213,152Z M57,697 L80,697 L83,700 L83,758 L80,761 L57,761 L54,758 L54,700Z M99,699 L197,699 L200,702 L200,759 L197,762 L99,762 L96,759 L96,702Z M216,697 L238,697 L241,700 L241,758 L238,761 L216,761 L213,758 L213,700Z M199.3,177.3 L155.7,345.1 L166.4,386.2 L199.3,259.6Z M199.3,319.2 L174.1,416 L199.3,512.8Z M199.3,572.5 L166.4,445.8 L155.7,487 L199.3,654.8Z M191.1,683 L147.9,516.8 L104.7,683Z M96.7,654.2 L140.2,487 L129.5,445.8 L96.7,571.9Z M96.7,512.3 L121.7,416 L96.7,319.8Z M96.7,260.2 L129.5,386.2 L140.2,345.1 L96.7,177.8Z M104.7,149 L147.9,315.2 L191.1,149Z M147.9,457.2 L158.6,416 L147.9,374.9 L137.2,416Z"/>
<rect class="o n" x="0" y="0" width="297" height="832"/>
<rect class="o n" x="42" y="53.5" width="211" height="723.5"/>
<path class="o n" d="M0,0 L42,53.5 M297,0 L253,53.5 M0,832 L42,777 M297,832 L253,777"/>
<g transform="translate(4 4)">
<path class="o n" stroke-width="2.6" d="M53,65 L76,65 L79,68 L79,123 L76,126 L53,126 L50,123 L50,68Z M95,66 L193,66 L196,69 L196,123 L193,126 L95,126 L92,123 L92,69Z M212,65 L234,65 L237,68 L237,123 L234,126 L212,126 L209,123 L209,68Z M53,145 L76,145 L79,148 L79,676 L76,679 L53,679 L50,676 L50,148Z M212,145 L234,145 L237,148 L237,676 L234,679 L212,679 L209,676 L209,148Z M53,693 L76,693 L79,696 L79,754 L76,757 L53,757 L50,754 L50,696Z M95,695 L193,695 L196,698 L196,755 L193,758 L95,758 L92,755 L92,698Z M212,693 L234,693 L237,696 L237,754 L234,757 L212,757 L209,754 L209,696Z M195.3,173.3 L151.7,341.1 L162.4,382.2 L195.3,255.6Z M195.3,315.2 L170.1,412 L195.3,508.8Z M195.3,568.5 L162.4,441.8 L151.7,483 L195.3,650.8Z M187.1,679 L143.9,512.8 L100.7,679Z M92.7,650.2 L136.2,483 L125.5,441.8 L92.7,567.9Z M92.7,508.3 L117.7,412 L92.7,315.8Z M92.7,256.2 L125.5,382.2 L136.2,341.1 L92.7,173.8Z M100.7,145 L143.9,311.2 L187.1,145Z M143.9,453.2 L154.6,412 L143.9,370.9 L133.2,412Z"/>
<path class="o n" stroke-width="1.6" d="M72.6,123.2 L75.6,120.2 L75.6,65.2 L75.4,65 L53,65 L50,68 L50,123 L50.2,123.2Z M189.6,123.2 L192.6,120.2 L192.6,66.2 L192.4,66 L95,66 L92,69 L92,123 L92.2,123.2Z M230.6,123.2 L233.6,120.2 L233.6,65.2 L233.4,65 L212,65 L209,68 L209,123 L209.2,123.2Z M72.6,676.2 L75.6,673.2 L75.6,145.2 L75.4,145 L53,145 L50,148 L50,676 L50.2,676.2Z M230.6,676.2 L233.6,673.2 L233.6,145.2 L233.4,145 L212,145 L209,148 L209,676 L209.2,676.2Z M72.6,754.2 L75.6,751.2 L75.6,693.2 L75.4,693 L53,693 L50,696 L50,754 L50.2,754.2Z M189.6,755.2 L192.6,752.2 L192.6,695.2 L192.4,695 L95,695 L92,698 L92,755 L92.2,755.2Z M230.6,754.2 L233.6,751.2 L233.6,693.2 L233.4,693 L212,693 L209,696 L209,754 L209.2,754.2Z M191.9,252.8 L191.9,186.3 L151.7,341.1 L160.3,374.3Z M191.9,328.3 L170.1,412 L191.9,495.8Z M161,447 L151.7,483 L191.9,637.7 L191.9,565.7Z M142.6,517.9 L101.4,676.2 L183.7,676.2Z M132.8,480.2 L124.1,447 L92.7,567.9 L92.7,634.3Z M114.3,409.2 L92.7,326 L92.7,492.4Z M132.8,338.3 L92.7,184.1 L92.7,256.2 L123.4,374.3Z M183,145 L100.7,145 L141.9,303.3Z M151.2,409.2 L142.6,376 L133.2,412 L141.9,445.2Z"/>
</g></g>
<circle class="o" cx="3117.7" cy="1453.4" r="9"/><circle cx="3123.9" cy="1717.3" r="4.5"/>
<g transform="matrix(1.3586,0.1219,0,1,2418.5,1589.7)"><path class="ow n" d="M0,0 L2.7,-7.8 L301,-7.4 L297,0 Z M297,0 L301,-7.4 L301,827 L297,831 Z"/></g>
<g transform="matrix(1.3586,0.1219,0,1,2418.5,1589.7)">
<path fill="#fff" fill-rule="evenodd" d="M0,0 L297,0 L297,830 L0,830 Z M58,65 L81,65 L84,68 L84,123 L81,126 L58,126 L55,123 L55,68Z M100,66 L198,66 L201,69 L201,123 L198,126 L100,126 L97,123 L97,69Z M217,65 L239,65 L242,68 L242,123 L239,126 L217,126 L214,123 L214,68Z M58,145 L81,145 L84,148 L84,676 L81,679 L58,679 L55,676 L55,148Z M217,145 L239,145 L242,148 L242,676 L239,679 L217,679 L214,676 L214,148Z M58,693 L81,693 L84,696 L84,754 L81,757 L58,757 L55,754 L55,696Z M100,695 L198,695 L201,698 L201,755 L198,758 L100,758 L97,755 L97,698Z M217,693 L239,693 L242,696 L242,754 L239,757 L217,757 L214,754 L214,696Z M200.3,173.3 L156.7,341.1 L167.4,382.2 L200.3,255.6Z M200.3,315.2 L175.1,412 L200.3,508.8Z M200.3,568.5 L167.4,441.8 L156.7,483 L200.3,650.8Z M192.1,679 L148.9,512.8 L105.7,679Z M97.7,650.2 L141.2,483 L130.5,441.8 L97.7,567.9Z M97.7,508.3 L122.7,412 L97.7,315.8Z M97.7,256.2 L130.5,382.2 L141.2,341.1 L97.7,173.8Z M105.7,145 L148.9,311.2 L192.1,145Z M148.9,453.2 L159.6,412 L148.9,370.9 L138.2,412Z"/>
<rect class="o n" x="0" y="0" width="297" height="830"/>
<rect class="o n" x="42" y="53.5" width="211" height="721.5"/>
<path class="o n" d="M0,0 L42,53.5 M297,0 L253,53.5 M0,830 L42,775 M297,830 L253,775"/>
<g transform="translate(5 0)">
<g clip-path="url(#gp5)"><path class="o n" stroke-width="2" d="M40,163.8 L260,236.4 M40,352.1 L260,220.1 M40,370.6 L260,238.6 M40,591.8 L260,664.4 M40,797.8 L260,665.8 M40,809.8 L260,677.8 M40,821.8 L260,689.8 M40,833.8 L260,701.8"/></g>
<path class="o n" stroke-width="2.6" d="M53,65 L76,65 L79,68 L79,123 L76,126 L53,126 L50,123 L50,68Z M95,66 L193,66 L196,69 L196,123 L193,126 L95,126 L92,123 L92,69Z M212,65 L234,65 L237,68 L237,123 L234,126 L212,126 L209,123 L209,68Z M53,145 L76,145 L79,148 L79,676 L76,679 L53,679 L50,676 L50,148Z M212,145 L234,145 L237,148 L237,676 L234,679 L212,679 L209,676 L209,148Z M53,693 L76,693 L79,696 L79,754 L76,757 L53,757 L50,754 L50,696Z M95,695 L193,695 L196,698 L196,755 L193,758 L95,758 L92,755 L92,698Z M212,693 L234,693 L237,696 L237,754 L234,757 L212,757 L209,754 L209,696Z M195.3,173.3 L151.7,341.1 L162.4,382.2 L195.3,255.6Z M195.3,315.2 L170.1,412 L195.3,508.8Z M195.3,568.5 L162.4,441.8 L151.7,483 L195.3,650.8Z M187.1,679 L143.9,512.8 L100.7,679Z M92.7,650.2 L136.2,483 L125.5,441.8 L92.7,567.9Z M92.7,508.3 L117.7,412 L92.7,315.8Z M92.7,256.2 L125.5,382.2 L136.2,341.1 L92.7,173.8Z M100.7,145 L143.9,311.2 L187.1,145Z M143.9,453.2 L154.6,412 L143.9,370.9 L133.2,412Z"/>
<path class="o n" stroke-width="1.6" d="M72.6,123.2 L75.6,120.2 L75.6,65.2 L75.4,65 L53,65 L50,68 L50,123 L50.2,123.2Z M189.6,123.2 L192.6,120.2 L192.6,66.2 L192.4,66 L95,66 L92,69 L92,123 L92.2,123.2Z M230.6,123.2 L233.6,120.2 L233.6,65.2 L233.4,65 L212,65 L209,68 L209,123 L209.2,123.2Z M72.6,676.2 L75.6,673.2 L75.6,145.2 L75.4,145 L53,145 L50,148 L50,676 L50.2,676.2Z M230.6,676.2 L233.6,673.2 L233.6,145.2 L233.4,145 L212,145 L209,148 L209,676 L209.2,676.2Z M72.6,754.2 L75.6,751.2 L75.6,693.2 L75.4,693 L53,693 L50,696 L50,754 L50.2,754.2Z M189.6,755.2 L192.6,752.2 L192.6,695.2 L192.4,695 L95,695 L92,698 L92,755 L92.2,755.2Z M230.6,754.2 L233.6,751.2 L233.6,693.2 L233.4,693 L212,693 L209,696 L209,754 L209.2,754.2Z M191.9,252.8 L191.9,186.3 L151.7,341.1 L160.3,374.3Z M191.9,328.3 L170.1,412 L191.9,495.8Z M161,447 L151.7,483 L191.9,637.7 L191.9,565.7Z M142.6,517.9 L101.4,676.2 L183.7,676.2Z M132.8,480.2 L124.1,447 L92.7,567.9 L92.7,634.3Z M114.3,409.2 L92.7,326 L92.7,492.4Z M132.8,338.3 L92.7,184.1 L92.7,256.2 L123.4,374.3Z M183,145 L100.7,145 L141.9,303.3Z M151.2,409.2 L142.6,376 L133.2,412 L141.9,445.2Z"/>
</g></g>
<circle class="o" cx="2786.2" cy="1635.7" r="8.7"/><circle cx="2792.4" cy="1902.7" r="4.5"/>
<rect class="ow" x="2401" y="1651.8" width="16.3" height="72.1" rx="4"/>
<circle cx="2408" cy="1666.2" r="3.2"/>
<circle cx="2408" cy="1687.8" r="3.2"/>
<circle cx="2408" cy="1709.5" r="3.2"/>
<rect class="ow" x="2401" y="2258.4" width="16.3" height="72" rx="4"/>
<circle cx="2408" cy="2272.8" r="3.2"/>
<circle cx="2408" cy="2294.4" r="3.2"/>
<circle cx="2408" cy="2316" r="3.2"/>
<path class="ow" d="M1834.9,1789.3 L1855.6,1787.3 L1962.2,1929.1 L1963.4,2762.5 L1943,2764.6 L1834.9,2619.3 Z"/>
<line class="o" x1="1942.5" y1="1932.2" x2="1962.2" y2="1929.1"/>
<line class="o" x1="1943" y1="1932.2" x2="1943" y2="2764.6"/>
<g transform="matrix(0.3623,0.4811,0,1,1834.9,1789.3)">
<rect class="o n" x="0" y="0" width="297" height="830"/>
<rect class="o n" x="42" y="53.5" width="211" height="721.5"/>
<path class="o n" d="M0,0 L42,53.5 M297,0 L253,53.5 M0,830 L42,775 M297,830 L253,775"/>
<g transform="translate(16 0)">
<g clip-path="url(#gp6)"><path class="o n" stroke-width="2" d="M40,240 L260,330 M40,400 L260,420 M40,420 L260,440"/></g>
<path class="o n" stroke-width="2.6" d="M53,65 L76,65 L79,68 L79,123 L76,126 L53,126 L50,123 L50,68Z M95,66 L193,66 L196,69 L196,123 L193,126 L95,126 L92,123 L92,69Z M212,65 L234,65 L237,68 L237,123 L234,126 L212,126 L209,123 L209,68Z M53,145 L76,145 L79,148 L79,676 L76,679 L53,679 L50,676 L50,148Z M212,145 L234,145 L237,148 L237,676 L234,679 L212,679 L209,676 L209,148Z M53,693 L76,693 L79,696 L79,754 L76,757 L53,757 L50,754 L50,696Z M95,695 L193,695 L196,698 L196,755 L193,758 L95,758 L92,755 L92,698Z M212,693 L234,693 L237,696 L237,754 L234,757 L212,757 L209,754 L209,696Z M195.3,173.3 L151.7,341.1 L162.4,382.2 L195.3,255.6Z M195.3,315.2 L170.1,412 L195.3,508.8Z M195.3,568.5 L162.4,441.8 L151.7,483 L195.3,650.8Z M187.1,679 L143.9,512.8 L100.7,679Z M92.7,650.2 L136.2,483 L125.5,441.8 L92.7,567.9Z M92.7,508.3 L117.7,412 L92.7,315.8Z M92.7,256.2 L125.5,382.2 L136.2,341.1 L92.7,173.8Z M100.7,145 L143.9,311.2 L187.1,145Z M143.9,453.2 L154.6,412 L143.9,370.9 L133.2,412Z"/>
<path class="o n" stroke-width="1.6" d="M72.6,123.2 L75.6,120.2 L75.6,65.2 L75.4,65 L53,65 L50,68 L50,123 L50.2,123.2Z M189.6,123.2 L192.6,120.2 L192.6,66.2 L192.4,66 L95,66 L92,69 L92,123 L92.2,123.2Z M230.6,123.2 L233.6,120.2 L233.6,65.2 L233.4,65 L212,65 L209,68 L209,123 L209.2,123.2Z M72.6,676.2 L75.6,673.2 L75.6,145.2 L75.4,145 L53,145 L50,148 L50,676 L50.2,676.2Z M230.6,676.2 L233.6,673.2 L233.6,145.2 L233.4,145 L212,145 L209,148 L209,676 L209.2,676.2Z M72.6,754.2 L75.6,751.2 L75.6,693.2 L75.4,693 L53,693 L50,696 L50,754 L50.2,754.2Z M189.6,755.2 L192.6,752.2 L192.6,695.2 L192.4,695 L95,695 L92,698 L92,755 L92.2,755.2Z M230.6,754.2 L233.6,751.2 L233.6,693.2 L233.4,693 L212,693 L209,696 L209,754 L209.2,754.2Z M191.9,252.8 L191.9,186.3 L151.7,341.1 L160.3,374.3Z M191.9,328.3 L170.1,412 L191.9,495.8Z M161,447 L151.7,483 L191.9,637.7 L191.9,565.7Z M142.6,517.9 L101.4,676.2 L183.7,676.2Z M132.8,480.2 L124.1,447 L92.7,567.9 L92.7,634.3Z M114.3,409.2 L92.7,326 L92.7,492.4Z M132.8,338.3 L92.7,184.1 L92.7,256.2 L123.4,374.3Z M183,145 L100.7,145 L141.9,303.3Z M151.2,409.2 L142.6,376 L133.2,412 L141.9,445.2Z"/>
</g></g>
<ellipse cx="1935.5" cy="2128" rx="3" ry="4.5"/>
<ellipse cx="1935.5" cy="2199.4" rx="3" ry="4.5"/>
<ellipse cx="1935.5" cy="2269.3" rx="3" ry="4.5"/>
<path class="ow" d="M1518.3,1901.7 L1539,1901.7 L1539,2731.7 L1502.6,2882.7 L1481.3,2881.3 L1482.1,2048.7 Z"/>
<line class="o" x1="1482.1" y1="2048.7" x2="1501.8" y2="2049.8"/>
<line class="o" x1="1501.8" y1="2049.8" x2="1501.8" y2="2881"/>
<g transform="matrix(-0.1219,0.4949,0,1,1539,1901.7)">
<rect class="o n" x="0" y="0" width="297" height="830"/>
<rect class="o n" x="42" y="53.5" width="211" height="721.5"/>
<path class="o n" d="M0,0 L42,53.5 M297,0 L253,53.5 M0,830 L42,775 M297,830 L253,775"/>
<g transform="translate(0 0)">
<path class="o n" stroke-width="1.6" d="M53,65 L76,65 L79,68 L79,123 L76,126 L53,126 L50,123 L50,68Z M95,66 L193,66 L196,69 L196,123 L193,126 L95,126 L92,123 L92,69Z M212,65 L234,65 L237,68 L237,123 L234,126 L212,126 L209,123 L209,68Z M53,145 L76,145 L79,148 L79,676 L76,679 L53,679 L50,676 L50,148Z M212,145 L234,145 L237,148 L237,676 L234,679 L212,679 L209,676 L209,148Z M53,693 L76,693 L79,696 L79,754 L76,757 L53,757 L50,754 L50,696Z M95,695 L193,695 L196,698 L196,755 L193,758 L95,758 L92,755 L92,698Z M212,693 L234,693 L237,696 L237,754 L234,757 L212,757 L209,754 L209,696Z"/>
</g></g>
<line class="d" x1="1529.7" y1="2737.5" x2="1589.5" y2="2905.5"/>
<line class="d" x1="1593.7" y1="2896.9" x2="1861.3" y2="2803"/>
<line class="d" x1="1810" y1="2639.3" x2="1867" y2="2807.2"/>
<text x="0" y="0" font-size="60" text-anchor="middle" transform="translate(1720 2842) rotate(-19.5) scale(0.95 1)">14.06"</text>
<line class="d" x1="1824.3" y1="2636.4" x2="1882.7" y2="2803"/>
<line class="d" x1="1885.5" y1="2794.4" x2="2470.4" y2="2587.1"/>
<text x="0" y="0" font-size="60" text-anchor="middle" transform="translate(2176 2684) rotate(-19.5) scale(0.95 1)">27.95"</text>
<line class="d" x1="2430.6" y1="2419.2" x2="2481.8" y2="2590"/>
<line class="d" x1="2436.3" y1="2424.9" x2="2496" y2="2587.1"/>
<line class="d" x1="2498.9" y1="2578.6" x2="2797.8" y2="2473.3"/>
<text x="0" y="0" font-size="60" text-anchor="middle" transform="translate(2640 2525) rotate(-19.5) scale(0.95 1)">14.06"</text>
<line class="d" x1="2738" y1="2305.3" x2="2800.7" y2="2473.3"/>
<line class="d" x1="2796.3" y1="1431.6" x2="3141" y2="1399"/>
<line class="d" x1="3142.5" y1="1391.2" x2="3147.2" y2="1422.3"/>
<text x="0" y="0" font-size="60" text-anchor="middle" transform="translate(2939 1413) rotate(-5.4) scale(0.95 1)">13.76"</text>
<line class="d" x1="3161.2" y1="1437.8" x2="3259" y2="1437.8"/>
<line class="d" x1="3161" y1="2271.1" x2="3259" y2="2271.1"/>
<line class="d" x1="3252.8" y1="1440" x2="3252.8" y2="2270"/>
<text x="0" y="0" font-size="60" text-anchor="middle" transform="translate(3246 1856) rotate(-90) scale(0.95 1)">29.37"</text>
</g>
<g id="shelves">
<polygon class="ow" points="2198.1,2874.8 2795,2667 3079.6,2766.5 2485.4,2977.3"/>
<polyline class="o" points="2198.1,2890.8 2198.1,2890.8 2485.4,2993.3 3079.6,2782.5 3079.6,2766.5"/>
<line class="o" x1="2485.4" y1="2977.3" x2="2485.4" y2="2993.3"/>
<line class="d" x1="2196" y1="2853" x2="2790" y2="2645"/>
<line class="o" x1="2190.4" y1="2851.6" x2="2196.6" y2="2868.6"/>
<line class="o" x1="2787" y1="2640" x2="2792.5" y2="2658"/>
<line class="o" x1="2806" y1="2641" x2="2796" y2="2658"/>
<text x="0" y="0" font-size="60" text-anchor="middle" transform="translate(2482 2746) rotate(-19.5) scale(0.95 1)">27.72"</text>
<line class="d" x1="2806.4" y1="2641.2" x2="3085.3" y2="2738"/>
<line class="o" x1="3088" y1="2729.5" x2="3082.5" y2="2758"/>
<text x="0" y="0" font-size="60" text-anchor="middle" transform="translate(2951 2682) rotate(19.5) scale(0.95 1)">13.31"</text>
<line class="d" x1="3089" y1="2766.5" x2="3114" y2="2766.5"/>
<line class="d" x1="3089" y1="2782.5" x2="3114" y2="2782.5"/>
<line class="d" x1="3105.3" y1="2743.7" x2="3105.3" y2="2806.4"/>
<polyline class="d" points="3105.3,2775 3145.1,2792.1 3259,2792.1"/>
<text x="0" y="0" font-size="60" text-anchor="start" transform="translate(3150.8 2783) scale(0.95 1)">0.6"</text>
<text x="0" y="0" font-size="67" text-anchor="start" transform="translate(2443 2904) rotate(-19.8)">Adjustable shelf</text>
<polygon class="ow" points="1621.4,3080.5 1954,2963 2238.8,3063.4 1906.2,3181"/>
<polyline class="o" points="1621.4,3097 1621.4,3097 1906.2,3197.5 2238.8,3079.9 2238.8,3063.4"/>
<line class="o" x1="1906.2" y1="3181" x2="1906.2" y2="3197.5"/>
<line class="d" x1="1616.6" y1="3053" x2="1942" y2="2939"/>
<line class="o" x1="1610.1" y1="3048" x2="1618.5" y2="3072.2"/>
<line class="o" x1="1942.6" y1="2934.5" x2="1948.3" y2="2957.2"/>
<line class="o" x1="1962.5" y1="2934.5" x2="1954" y2="2957.2"/>
<text x="0" y="0" font-size="60" text-anchor="middle" transform="translate(1775 2986) rotate(-19.5) scale(0.95 1)">15.47"</text>
<line class="d" x1="1968" y1="2938" x2="2246.3" y2="3029.8"/>
<line class="o" x1="2252" y1="3026" x2="2241.3" y2="3055.5"/>
<text x="0" y="0" font-size="60" text-anchor="middle" transform="translate(2113 2973) rotate(19.5) scale(0.95 1)">13.31"</text>
<line class="d" x1="2247.5" y1="3063.8" x2="2296.8" y2="3063.8"/>
<line class="d" x1="2247.5" y1="3081.6" x2="2296.8" y2="3081.6"/>
<line class="d" x1="2289.7" y1="3039.3" x2="2289.7" y2="3105.2"/>
<polyline class="d" points="2289.7,3072.9 2325,3100.2 2437.3,3100.2"/>
<text x="0" y="0" font-size="60" text-anchor="start" transform="translate(2333 3092) scale(0.95 1)">0.6"</text>
<text x="0" y="0" font-size="45" text-anchor="start" transform="translate(1790 3127) rotate(-19.6)">Adjustable shelf</text>
</g>
</svg></body></html>
